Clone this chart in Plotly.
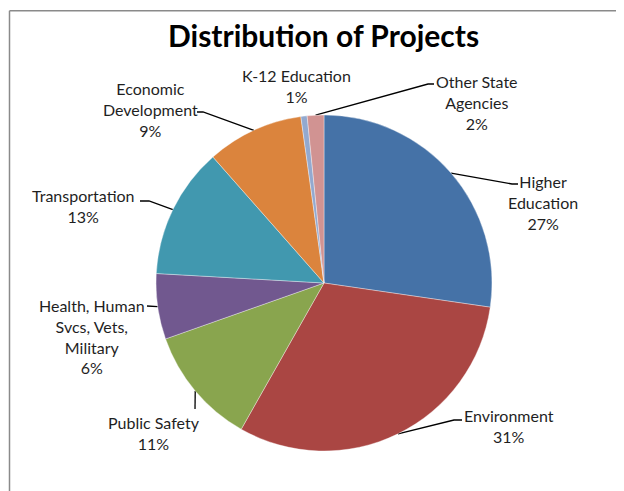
import math
import plotly.graph_objects as go

# ---- data ----
categories = ["Higher Education", "Environment", "Public Safety",
              "Health, Human Svcs, Vets, Military", "Transportation",
              "Economic Development", "K-12 Education", "Other State Agencies"]
values = [27.3, 30.9, 11.4, 6.3, 12.6, 9.3, 0.6, 1.6]
label_text = ["Higher<br>Education", "Environment", "Public Safety",
              "Health, Human<br>Svcs, Vets,<br>Military", "Transportation",
              "Economic<br>Development", "K-12 Education", "Other State<br>Agencies"]
colors = ["#4572A7", "#AA4643", "#89A54E", "#71588F",
          "#4198AF", "#DB843D", "#93A9CF", "#D19392"]

# ---- layout constants (pixels, in window coordinates) ----
W, H = 624, 491
OFF = 8  # page body margin
FW, FH = W - OFF, H - OFF
CX, CY, R = 324, 283, 168
label_pos = [(543, 202), (509, 426), (154, 433), (92, 336),
             (83, 206), (150, 109), (296, 86), (477, 102)]
elbows = [[(512, 184), (518, 184)],
          [(454, 420), (462, 420)],
          [(195, 409)],
          [(147, 306)],
          [(149, 201), (140, 201)],
          [(203, 112), (197, 112)],
          None,
          [(428, 84), (434, 84)]]

FONT = "Lato"
TXT = "#1f1f1f"

Y1 = OFF + FH  # window y of figure bottom

fig = go.Figure()
fig.add_trace(go.Pie(
    labels=categories, values=values, sort=False, direction="clockwise",
    rotation=0, marker=dict(colors=colors, line=dict(color="rgba(255,255,255,0.6)", width=0.6)),
    textinfo="none", hoverinfo="label+percent", showlegend=False,
    domain=dict(x=[(CX - R - OFF) / FW, (CX + R - OFF) / FW],
                y=[(Y1 - CY - R) / FH, (Y1 - CY + R) / FH]),
))

total = sum(values)
cum = 0.0
annotations = []
for i, v in enumerate(values):
    mid = (cum + v / 2) / total * 2 * math.pi
    cum += v
    pct = round(v / total * 100)
    ex = CX + R * math.sin(mid)
    ey = CY - R * math.cos(mid)
    if elbows[i]:
        xs = [ex] + [p[0] for p in elbows[i]]
        ys = [ey] + [p[1] for p in elbows[i]]
        fig.add_trace(go.Scatter(x=xs, y=ys, mode="lines",
                                 line=dict(color="#000000", width=1.3),
                                 hoverinfo="skip", showlegend=False))
    lx, ly = label_pos[i]
    annotations.append(dict(x=lx, y=ly, xref="x", yref="y",
                            text=f"{label_text[i]}<br>{pct}%", showarrow=False,
                            align="center", xanchor="center", yanchor="middle",
                            font=dict(family=FONT, size=16, color=TXT)))

annotations.append(dict(x=323, y=35, xref="x", yref="y",
                        text="<b>Distribution of Projects</b>", showarrow=False,
                        xanchor="center", yanchor="middle",
                        font=dict(family=FONT, size=30, color="#000000")))

frame = dict(color="#8a8a8a", width=1.5)
fig.update_layout(
    width=FW, height=FH,
    margin=dict(l=0, r=0, t=0, b=0),
    paper_bgcolor="white", plot_bgcolor="rgba(0,0,0,0)",
    xaxis=dict(range=[OFF, OFF + FW], visible=False, fixedrange=True),
    yaxis=dict(range=[Y1, OFF], visible=False, fixedrange=True),
    annotations=annotations,
    shapes=[dict(type="line", xref="x", yref="y", x0=9.5, y0=10.7, x1=W + 40, y1=10.7,
                 line=frame, layer="below"),
            dict(type="line", xref="x", yref="y", x0=9.5, y0=10.7, x1=9.5, y1=H + 40,
                 line=frame, layer="below")],
)

fig.write_html("out.html")
